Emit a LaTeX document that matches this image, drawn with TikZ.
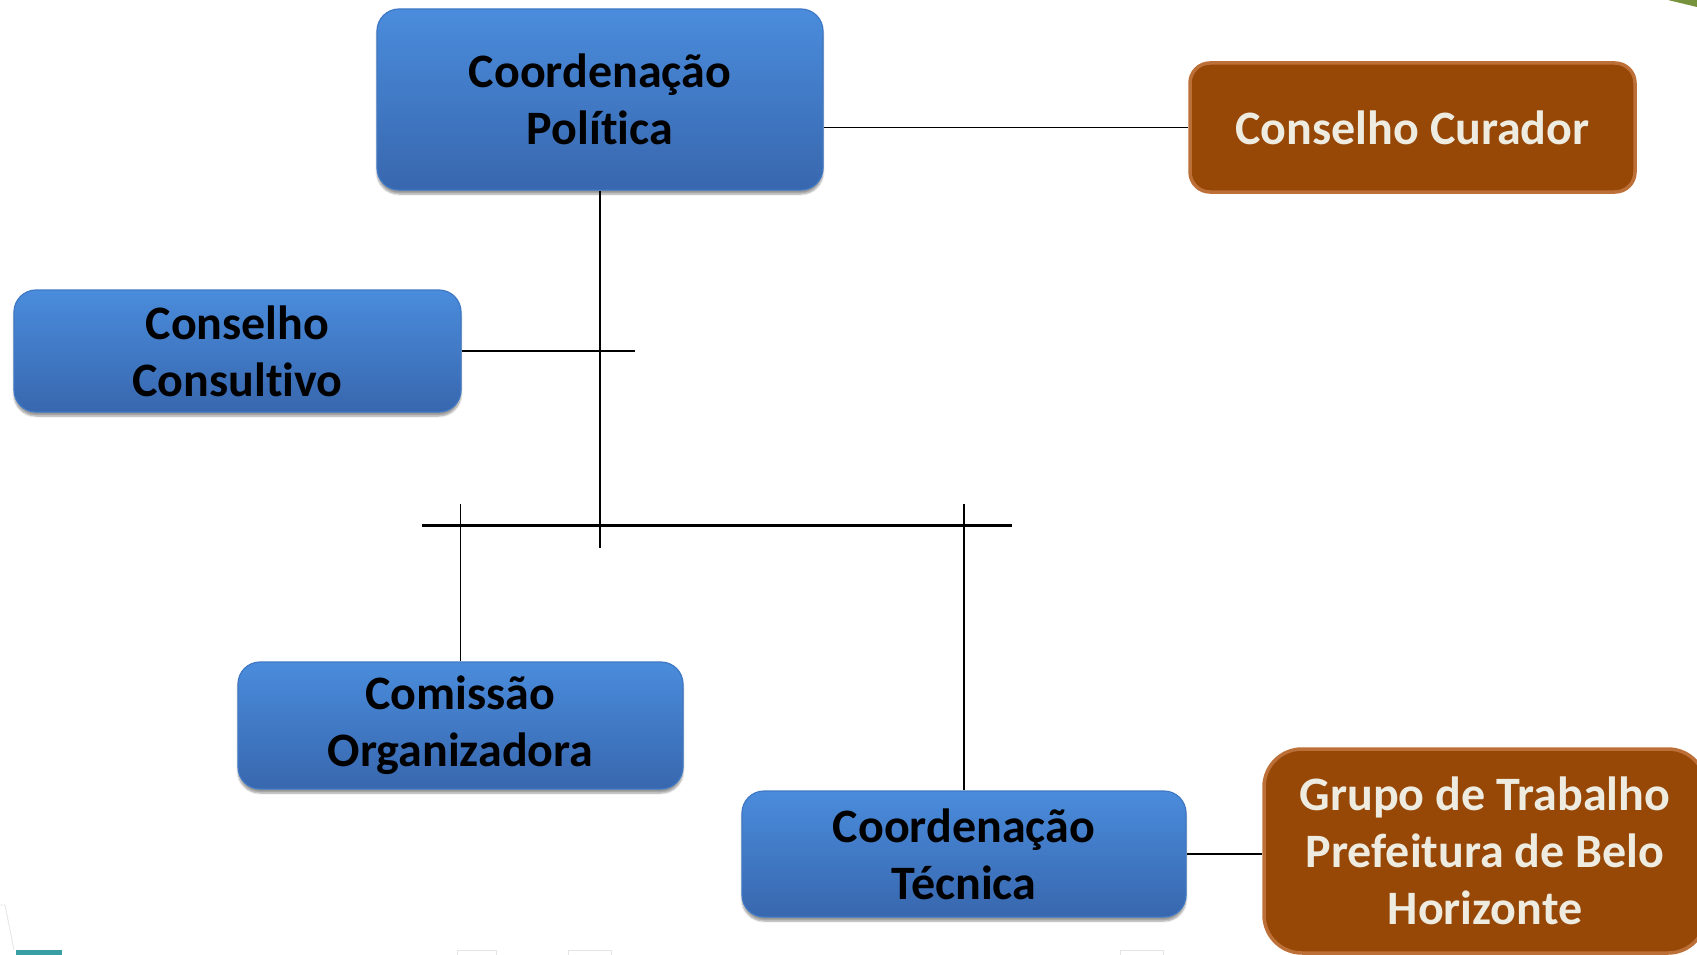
\documentclass[tikz,border=0pt]{standalone}
\usepackage{fontspec}
\setmainfont{Carlito}[Ligatures={NoCommon,NoRare,NoContextual}]
\usetikzlibrary{shadows.blur,calc}
\newcommand{\tI}{t\kern0pt i}
\definecolor{bluetop}{HTML}{4A8CDC}
\definecolor{bluebot}{HTML}{3867AE}
\definecolor{blueedge}{HTML}{3F78C4}
\definecolor{brownfill}{HTML}{974706}
\definecolor{brownedge}{HTML}{BC6F36}
\definecolor{browntext}{HTML}{EEECE1}
\definecolor{greenc}{HTML}{76923C}
\definecolor{tealc}{HTML}{3A9FA5}
\tikzset{
  bluebox/.style={rounded corners=22pt, top color=bluetop, bottom color=bluebot,
    draw=blueedge, line width=1.2pt, inner sep=0pt, align=center,
    font=\fontsize{48}{57}\selectfont\bfseries, text=black,
    blur shadow={shadow xshift=0pt, shadow yshift=-4pt, shadow blur steps=6, shadow opacity=40}},
  brownbox/.style={rounded corners=20pt, fill=brownfill, draw=brownedge, line width=3.5pt,
    inner sep=0pt, align=center, font=\fontsize{48}{57}\selectfont\bfseries, text=browntext},
  link/.style={line width=1.5pt, black},
  bar/.style={line width=3pt, black}
}
\begin{document}
\begin{tikzpicture}[x=1pt,y=-1pt]
\useasboundingbox (0,0) rectangle (1697,955);
% decorations
\fill[greenc] (1668,0) -- (1697,0) -- (1697,7) -- cycle;
\fill[tealc] (16,950) rectangle (62,955);
\draw[gray!20, line width=0.8pt] (0,905) -- (5,905) -- (14,950);
\draw[gray!20, line width=0.8pt] (457,955) -- (457,950) -- (496,950) -- (496,955);
\draw[gray!20, line width=0.8pt] (568,955) -- (568,950) -- (611,950) -- (611,955);
\draw[gray!20, line width=0.8pt] (1120,955) -- (1120,950) -- (1163,950) -- (1163,955);
% nodes
\node[bluebox, minimum width=446pt, minimum height=181pt] (cp) at (600,99.5) {Coordenação\\Polí\tI ca};
\node[brownbox, minimum width=445pt, minimum height=129pt] (cur) at (1412.5,127.5) {Conselho Curador};
\node[bluebox, minimum width=447pt, minimum height=122pt] (cons) at (237.5,351) {Conselho\\Consul\tI vo};
\node[bluebox, minimum width=445pt, minimum height=127pt] (com) at (460.5,725.5) {Comissão\\Organizadora};
\node[bluebox, minimum width=444pt, minimum height=126pt] (ct) at (964,854) {Coordenação\\Técnica};
\node[brownbox, rounded corners=38pt, minimum width=442pt, minimum height=204pt] (gt) at (1485,851) {Grupo de Trabalho\\Prefeitura de Belo\\Horizonte};
% coordinates
\coordinate (vend) at (600,548);
\coordinate (ctick) at (635,353);
\coordinate (barL) at (422,525);
\coordinate (barR) at (1012,525);
\coordinate (ltop) at (460.5,504);
\coordinate (rtop) at (964,504);
% connectors
\draw[link] (cp.east |- cur.west) -- (cur.west);
\draw[link] (cp.south) -- (vend);
\draw[link] (cons.east) -- (cons.east -| ctick);
\draw[bar] (barL) -- (barR);
\draw[link] (ltop) -- (com.north);
\draw[link] (rtop) -- (ct.north);
\draw[link] (ct.east) -- (ct.east -| gt.west);
\end{tikzpicture}
\end{document}
